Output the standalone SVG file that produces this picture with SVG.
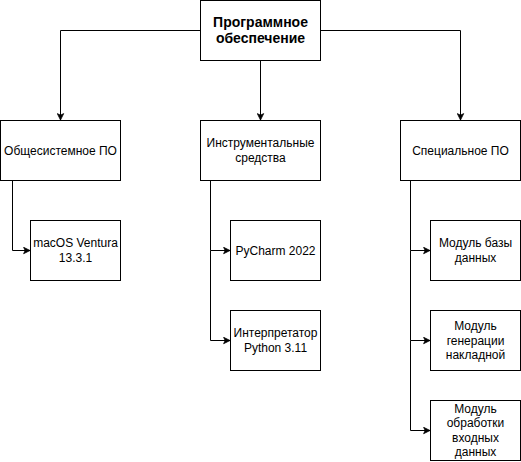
<svg xmlns="http://www.w3.org/2000/svg" width="521" height="462" viewBox="0 0 521 462">
<style>
.box{fill:#fff;stroke:#000;stroke-width:1}
.t{font-family:"Liberation Sans",Arial,sans-serif;font-size:12px;fill:#000;text-anchor:middle}
.b{font-size:14px;font-weight:bold}
.c{fill:none;stroke:#000;stroke-width:1}
</style>
<defs>
<marker id="arr" viewBox="0 0 10 10" refX="9" refY="5" markerWidth="8" markerHeight="8" markerUnits="userSpaceOnUse" orient="auto">
<path d="M1,1 L9,5 L1,9 L3,5 Z" fill="#000" stroke="#000" stroke-width="1"/>
</marker>
</defs>
<rect width="521" height="462" fill="#fff"/>
<g id="connectors">
<path class="c" d="M200.5,30.5 H60.5 V120" marker-end="url(#arr)"/>
<path class="c" d="M260.5,60.5 V120" marker-end="url(#arr)"/>
<path class="c" d="M320.5,30.5 H460.5 V120" marker-end="url(#arr)"/>
<path class="c" d="M12.5,180.5 V250.5 H30" marker-end="url(#arr)"/>
<path class="c" d="M210.5,180.5 V250.5 H230" marker-end="url(#arr)"/>
<path class="c" d="M210.5,250.5 V340.5 H230" marker-end="url(#arr)"/>
<path class="c" d="M410.5,180.5 V250.5 H430" marker-end="url(#arr)"/>
<path class="c" d="M410.5,250.5 V340.5 H430" marker-end="url(#arr)"/>
<path class="c" d="M410.5,340.5 V430.5 H430" marker-end="url(#arr)"/>
</g>
<g id="root">
<rect class="box" x="200.5" y="0.5" width="120" height="60"/>
<text class="t b" x="260.5" y="26.5">Программное</text>
<text class="t b" x="260.5" y="43.3">обеспечение</text>
</g>
<g id="system">
<rect class="box" x="0.5" y="120.5" width="120" height="60"/>
<text class="t" x="60.5" y="154.6">Общесистемное ПО</text>
</g>
<g id="tools">
<rect class="box" x="200.5" y="120.5" width="120" height="60"/>
<text class="t" x="260.5" y="147.4">Инструментальные</text>
<text class="t" x="260.5" y="161.8">средства</text>
</g>
<g id="special">
<rect class="box" x="400.5" y="120.5" width="120" height="60"/>
<text class="t" x="460.5" y="154.6">Специальное ПО</text>
</g>
<g id="macos">
<rect class="box" x="30.5" y="220.5" width="90" height="60"/>
<text class="t" x="75.5" y="247.4">macOS Ventura</text>
<text class="t" x="75.5" y="261.8">13.3.1</text>
</g>
<g id="pycharm">
<rect class="box" x="230.5" y="220.5" width="90" height="60"/>
<text class="t" x="275.5" y="254.6">PyCharm 2022</text>
</g>
<g id="interpreter">
<rect class="box" x="230.5" y="310.5" width="90" height="60"/>
<text class="t" x="275.5" y="337.4">Интерпретатор</text>
<text class="t" x="275.5" y="351.8">Python 3.11</text>
</g>
<g id="db">
<rect class="box" x="430.5" y="220.5" width="90" height="60"/>
<text class="t" x="475.5" y="247.4">Модуль базы</text>
<text class="t" x="475.5" y="261.8">данных</text>
</g>
<g id="gen">
<rect class="box" x="430.5" y="310.5" width="90" height="60"/>
<text class="t" x="475.5" y="330.2">Модуль</text>
<text class="t" x="475.5" y="344.6">генерации</text>
<text class="t" x="475.5" y="359">накладной</text>
</g>
<g id="input">
<rect class="box" x="430.5" y="400.5" width="90" height="60"/>
<text class="t" x="475.5" y="413">Модуль</text>
<text class="t" x="475.5" y="427.4">обработки</text>
<text class="t" x="475.5" y="441.8">входных</text>
<text class="t" x="475.5" y="456.2">данных</text>
</g>
</svg>
